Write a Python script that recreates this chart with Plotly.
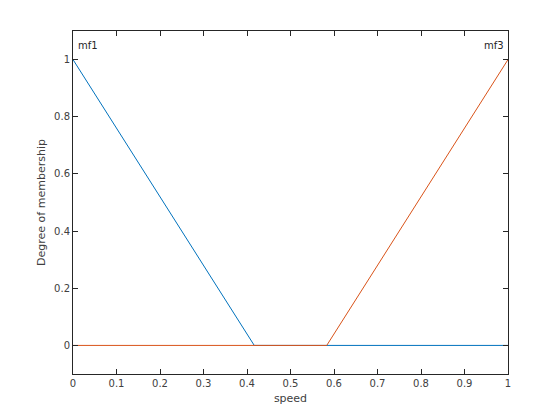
import plotly.graph_objects as go

mf1_x = [0.0, 0.4167, 1.0]
mf1_y = [1.0, 0.0, 0.0]
mf3_x = [0.0, 0.5833, 1.0]
mf3_y = [0.0, 0.0, 1.0]
x_ticks = [0, 0.1, 0.2, 0.3, 0.4, 0.5, 0.6, 0.7, 0.8, 0.9, 1]
x_tick_labels = ["0", "0.1", "0.2", "0.3", "0.4", "0.5", "0.6", "0.7", "0.8", "0.9", "1"]
y_ticks = [0, 0.2, 0.4, 0.6, 0.8, 1]
y_tick_labels = ["0", "0.2", "0.4", "0.6", "0.8", "1"]

fig = go.Figure()
fig.add_trace(go.Scatter(x=mf1_x, y=mf1_y, mode="lines",
                         line=dict(color="#0072BD", width=1), showlegend=False))
fig.add_trace(go.Scatter(x=mf3_x, y=mf3_y, mode="lines",
                         line=dict(color="#D95319", width=1), showlegend=False))

fig.add_annotation(x=0, y=1.05, text="mf1", showarrow=False, xanchor="left",
                   xshift=3, font=dict(size=10, color="#262626"))
fig.add_annotation(x=1, y=1.05, text="mf3", showarrow=False, xanchor="right",
                   xshift=-2, font=dict(size=10, color="#262626"))

axis_common = dict(showgrid=False, zeroline=False, showline=True, linecolor="#262626",
                   linewidth=1, mirror="ticks", ticks="inside", ticklen=5,
                   tickcolor="#262626", tickfont=dict(size=10, color="#404040"),
                   automargin=False)
fig.update_xaxes(range=[0, 1], tickvals=x_ticks, ticktext=x_tick_labels,
                 title=dict(text="speed", font=dict(size=11, color="#404040"), standoff=6),
                 **axis_common)
fig.update_yaxes(range=[-0.1, 1.1], tickvals=y_ticks, ticktext=y_tick_labels,
                 title=dict(text="Degree of membership", font=dict(size=11, color="#404040"), standoff=6),
                 **axis_common)
fig.update_layout(width=560, height=420, margin=dict(l=65, r=60, t=23, b=54),
                  paper_bgcolor="white", plot_bgcolor="white",
                  font=dict(family="DejaVu Sans"))
fig.write_html("out.html")
